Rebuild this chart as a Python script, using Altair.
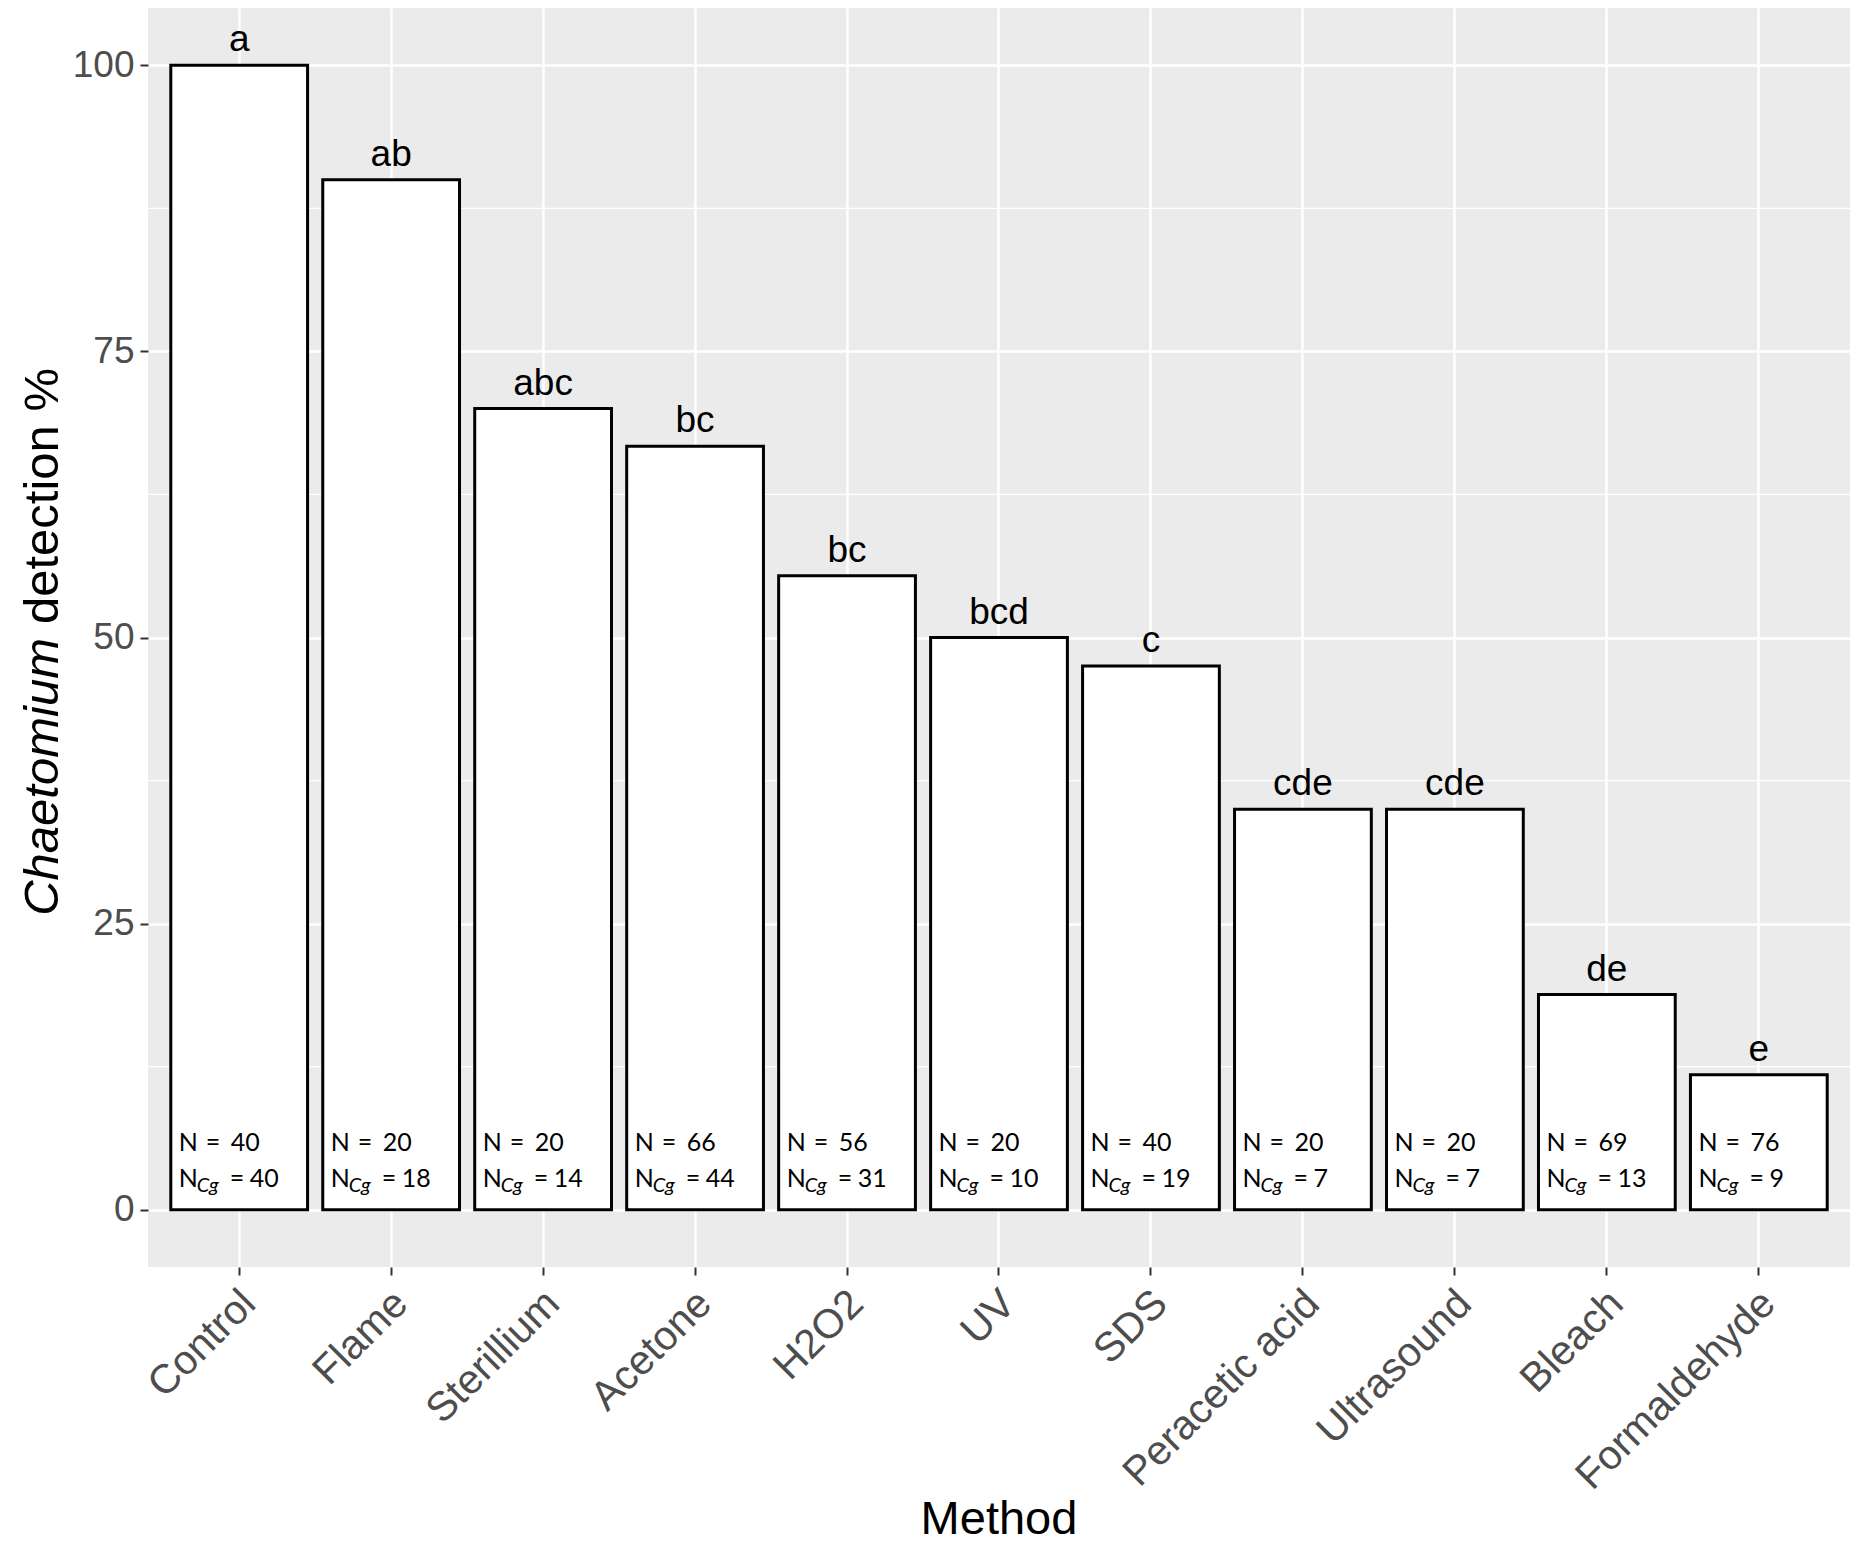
import altair as alt
import pandas as pd

methods = ["Control", "Flame", "Sterillium", "Acetone", "H2O2", "UV", "SDS",
           "Peracetic acid", "Ultrasound", "Bleach", "Formaldehyde"]
detection = [100, 90, 70, 66.7, 55.4, 50, 47.5, 35, 35, 18.8, 11.8]
letters = ["a", "ab", "abc", "bc", "bc", "bcd", "c", "cde", "cde", "de", "e"]
n_total = [40, 20, 20, 66, 56, 20, 40, 20, 20, 69, 76]
n_cg = [40, 18, 14, 44, 31, 10, 19, 7, 7, 13, 9]
y_ticks = [0, 25, 50, 75, 100]
minor_ticks = [12.5, 37.5, 62.5, 87.5]

df = pd.DataFrame({
    "Method": methods,
    "det": detection,
    "letter": letters,
    "n": [str(v) for v in n_total],
    "ncg": [str(v) for v in n_cg],
})

W, H = 1702, 1259
AX_FONT = "Liberation Sans"
N_FONT = "Lato"

x_scale = alt.Scale(domain=methods, paddingInner=0.1, paddingOuter=0.15)
y_scale = alt.Scale(domain=[-5, 105], nice=False, zero=False)

x_axis = alt.Axis(title=None, labelAngle=-45, labelAlign="right", labelBaseline="top",
                  labelFont=AX_FONT, labelFontSize=41, labelColor="#4D4D4D",
                  labelPadding=8, labelOffset=-4, labelLimit=0, labelOverlap=False,
                  tickColor="#333333", tickWidth=2, tickSize=8, domain=False,
                  grid=True, gridColor="white", gridWidth=2.4, bandPosition=0.5)
y_axis = alt.Axis(title=None, values=y_ticks, labelFont=AX_FONT, labelFontSize=37,
                  labelColor="#4D4D4D", labelPadding=6, tickColor="#333333",
                  tickWidth=2, tickSize=8, domain=False, grid=True,
                  gridColor="white", gridWidth=2.4)

base = alt.Chart(df).transform_calculate(base="0")

X_center = alt.X("Method:N", sort=methods, scale=x_scale, axis=x_axis)
X_start = alt.X("Method:N", sort=methods, scale=x_scale, axis=x_axis, bandPosition=0)
Y_zero = alt.Y("base:Q", scale=y_scale, axis=y_axis)

minor = alt.Chart(pd.DataFrame({"v": minor_ticks})).mark_rule(
    color="white", strokeWidth=1.2
).encode(y=alt.Y("v:Q", scale=y_scale, axis=y_axis))

bars = base.mark_bar(fill="white", stroke="black", strokeWidth=3).encode(
    x=X_center,
    y=alt.Y("det:Q", scale=y_scale, axis=y_axis),
    y2=alt.Y2("base:Q"),
)

letters_layer = base.mark_text(font=AX_FONT, fontSize=37, color="black",
                               baseline="alphabetic", align="center", dy=-14).encode(
    x=X_center,
    y=alt.Y("det:Q", scale=y_scale, axis=y_axis),
    text="letter:N",
)


def ntext(dx, dy, size=25, style="normal", field=None, const=None):
    m = base.mark_text(font=N_FONT, fontSize=size, fontStyle=style, color="black",
                       align="left", baseline="alphabetic", dx=dx, dy=dy,
                       **({"text": const} if const is not None else {}))
    enc = dict(x=X_start, y=Y_zero)
    if field is not None:
        enc["text"] = alt.Text(f"{field}:N")
    return m.encode(**enc)


n_layers = [
    ntext(8, -59, const="N"),
    ntext(35, -59, const="="),
    ntext(60, -59, field="n"),
    ntext(8, -23, const="N"),
    ntext(26, -18, size=20, style="italic", const="Cg"),
    ntext(59, -23, const="="),
    ntext(79, -23, field="ncg"),
]

ytitle1 = alt.Chart(pd.DataFrame({"t": ["Chaetomium"]})).mark_text(
    font=AX_FONT, fontSize=49, fontStyle="italic", color="black", angle=270,
    align="right", baseline="alphabetic"
).encode(text="t:N", x=alt.value(-90), y=alt.value(630))

ytitle2 = alt.Chart(pd.DataFrame({"t": ["detection %"]})).mark_text(
    font=AX_FONT, fontSize=49, color="black", angle=270,
    align="left", baseline="alphabetic"
).encode(text="t:N", x=alt.value(-90), y=alt.value(616))

xtitle = alt.Chart(pd.DataFrame({"t": ["Method"]})).mark_text(
    font=AX_FONT, fontSize=47, color="black", align="center", baseline="alphabetic"
).encode(text="t:N", x=alt.value(W / 2), y=alt.value(1526))

chart = alt.layer(minor, bars, letters_layer, *n_layers, ytitle1, ytitle2, xtitle).properties(
    width=W, height=H,
    padding={"left": 140, "top": 0, "right": 2, "bottom": 277},
    autosize=alt.AutoSizeParams(type="none"),
    background="white",
).configure(font=AX_FONT).configure_view(fill="#EBEBEB", strokeWidth=0)

chart.save("out.html", embed_options={"renderer": "svg", "actions": False})
